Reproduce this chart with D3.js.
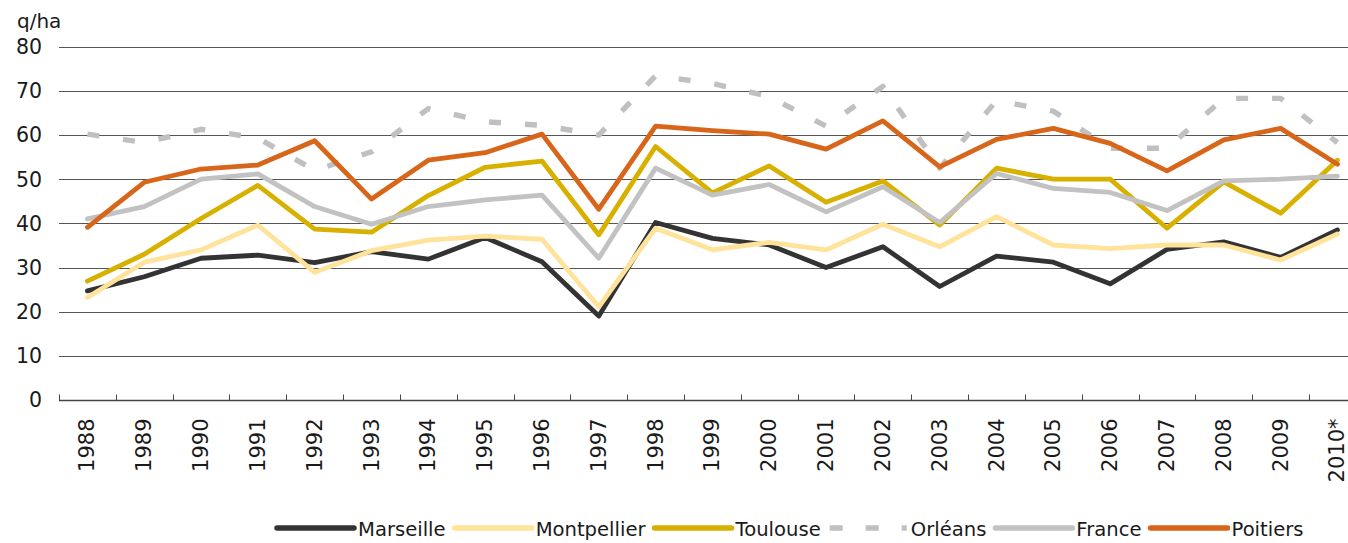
<!DOCTYPE html>
<html>
<head>
<meta charset="utf-8">
<script src="https://cdn.jsdelivr.net/npm/d3@7"></script>
<style>
  body { margin: 0; background: #fff; }
  svg { display: block; font-family: "DejaVu Sans", sans-serif; }
</style>
</head>
<body>
<div id="chart"></div>
<script>
const years = ["1988", "1989", "1990", "1991", "1992", "1993", "1994", "1995", "1996", "1997", "1998",
  "1999", "2000", "2001", "2002", "2003", "2004", "2005", "2006", "2007", "2008", "2009", "2010*"];

const marseille = [24.7, 27.9, 32.1, 32.8, 31.1, 33.6, 31.9, 36.8, 31.3, 19.0, 40.2, 36.6, 35.1, 30.0, 34.7, 25.7, 32.6, 31.2, 26.3, 34.1, 35.8, 32.3, 38.5];
const montpellier = [23.2, 31.2, 34.0, 39.6, 28.9, 33.8, 36.2, 37.1, 36.4, 21.1, 38.9, 34.0, 35.7, 34.0, 39.8, 34.7, 41.5, 35.1, 34.3, 35.1, 35.1, 31.7, 37.6];
const toulouse = [26.9, 33.0, 41.1, 48.6, 38.7, 38.0, 46.3, 52.7, 54.1, 37.4, 57.4, 46.9, 53.0, 44.8, 49.6, 39.6, 52.5, 50.0, 50.0, 38.9, 49.4, 42.3, 54.3];
const orleans = [60.2, 58.3, 61.3, 59.3, 52.0, 56.2, 66.0, 63.0, 62.2, 60.0, 73.4, 71.7, 68.7, 62.0, 71.0, 52.5, 67.8, 65.4, 57.0, 57.0, 68.3, 68.3, 58.3];
const france = [41.0, 43.8, 50.0, 51.2, 43.8, 39.8, 43.8, 45.3, 46.4, 32.1, 52.5, 46.4, 48.8, 42.6, 48.3, 40.2, 51.3, 47.9, 47.0, 42.9, 49.6, 50.0, 50.7];
const poitiers = [39.1, 49.3, 52.3, 53.2, 58.7, 45.5, 54.3, 56.0, 60.2, 43.2, 62.0, 61.0, 60.2, 56.8, 63.2, 52.8, 59.0, 61.5, 58.1, 51.9, 58.9, 61.5, 53.4];

const yTicks = [0, 10, 20, 30, 40, 50, 60, 70, 80];

const series = [
  { name: "Marseille", values: marseille, color: "#333333" },
  { name: "Montpellier", values: montpellier, color: "#ffe39b" },
  { name: "Toulouse", values: toulouse, color: "#d8b000" },
  { name: "Orléans", values: orleans, color: "#c0c0c0", dash: "12,24" },
  { name: "France", values: france, color: "#c2c2c2" },
  { name: "Poitiers", values: poitiers, color: "#d8661a" }
];

const width = 1348, height = 543;
const plotLeft = 59, plotTop = 46.7, plotBottom = 400;

const svg = d3.select("#chart").append("svg")
  .attr("width", width)
  .attr("height", height);

const x = d3.scaleBand().domain(years).range([plotLeft, plotLeft + 23 * 56.82]);
const y = d3.scaleLinear().domain([0, 80]).range([plotBottom, plotTop]);

// grid lines
svg.append("g")
  .selectAll("line")
  .data(yTicks.filter(d => d > 0))
  .enter()
  .append("line")
  .attr("x1", plotLeft)
  .attr("x2", width)
  .attr("y1", d => Math.round(y(d)) + 0.5)
  .attr("y2", d => Math.round(y(d)) + 0.5)
  .style("stroke", "#555")
  .style("stroke-width", 1);

// y labels
svg.append("g")
  .selectAll("text")
  .data(yTicks)
  .enter()
  .append("text")
  .attr("x", 42)
  .attr("y", d => y(d))
  .attr("dy", "0.36em")
  .attr("text-anchor", "end")
  .attr("font-size", 20.5)
  .attr("fill", "#1a1a1a")
  .text(d => d);

svg.append("text")
  .attr("x", 17)
  .attr("y", 28)
  .attr("font-size", 20)
  .attr("fill", "#1a1a1a")
  .text("q/ha");

// x axis
const xAxis = svg.append("g").attr("transform", `translate(0,${Math.round(plotBottom) + 0.5})`);
xAxis.append("line")
  .attr("x1", plotLeft).attr("x2", width)
  .style("stroke", "#444").style("stroke-width", 1.3);
xAxis.selectAll(".tick")
  .data(years)
  .enter()
  .append("line")
  .attr("class", "tick")
  .attr("x1", d => Math.round(x(d)) + 0.5)
  .attr("x2", d => Math.round(x(d)) + 0.5)
  .attr("y1", -6)
  .attr("y2", 0)
  .style("stroke", "#444");
xAxis.selectAll(".label")
  .data(years)
  .enter()
  .append("text")
  .attr("class", "label")
  .attr("transform", d => `translate(${x(d) + x.bandwidth() / 2 + 7},18) rotate(-90)`)
  .attr("text-anchor", "end")
  .attr("font-size", 21)
  .attr("fill", "#1a1a1a")
  .text(d => d);

// lines
const line = d3.line()
  .x((d, i) => x(years[i]) + x.bandwidth() / 2)
  .y(d => y(d));

svg.append("g")
  .selectAll("path")
  .data(series)
  .enter()
  .append("path")
  .attr("d", d => line(d.values))
  .attr("fill", "none")
  .style("stroke", d => d.color)
  .style("stroke-width", d => d.dash ? 5.4 : 4.8)
  .style("stroke-linejoin", "round")
  .style("stroke-linecap", d => d.dash ? "butt" : "round")
  .style("stroke-dasharray", d => d.dash || null);

// legend
const legend = svg.append("g");
let lx = 277;
const ly = 528;
series.forEach(s => {
  legend.append("line")
    .attr("x1", lx).attr("x2", lx + 77)
    .attr("y1", ly).attr("y2", ly)
    .style("stroke", s.color)
    .style("stroke-width", 5.5)
    .style("stroke-linecap", s.dash ? "butt" : "round")
    .style("stroke-dasharray", s.dash ? "13,23" : null);
  const t = legend.append("text")
    .attr("x", lx + 81)
    .attr("y", ly + 7.5)
    .attr("font-size", 19.6)
    .attr("fill", "#1a1a1a")
    .text(s.name);
  lx += 81 + t.node().getComputedTextLength() + 9;
});
</script>
</body>
</html>
